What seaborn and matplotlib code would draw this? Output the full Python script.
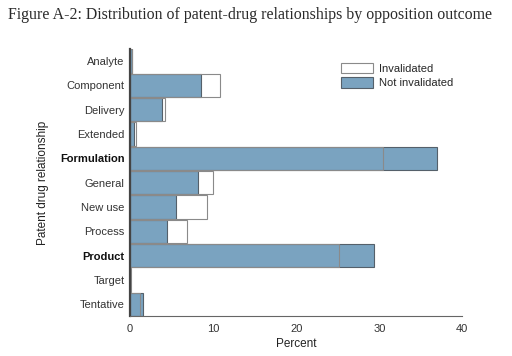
import numpy as np
import pandas as pd
import seaborn as sns
import matplotlib.pyplot as plt
from matplotlib.patches import Patch

sns.set_theme(style="white", context="paper")
plt.rcParams["font.family"] = ["Liberation Sans", "DejaVu Sans"]

# data (percent of each outcome group)
relationships = ["Analyte", "Component", "Delivery", "Extended", "Formulation",
                 "General", "New use", "Process", "Product", "Target", "Tentative"]
not_invalidated = [0.25, 8.5, 3.9, 0.5, 36.9, 8.2, 5.5, 4.5, 29.4, 0.05, 1.6]
invalidated = [0.2, 10.8, 4.2, 0.75, 30.4, 10.0, 9.3, 6.9, 25.1, 0.1, 1.2]
bold_labels = ["Formulation", "Product"]

df = pd.DataFrame({
    "relationship": relationships,
    "Not invalidated": not_invalidated,
    "Invalidated": invalidated,
})

blue = "#7aa3c0"

fig = plt.figure(figsize=(5.12, 3.56), dpi=100)
ax = fig.add_axes([0.254, 0.111, 0.649, 0.752])

# blue bars underneath, invalidated drawn as outlines on top
sns.barplot(data=df, y="relationship", x="Not invalidated", color=blue,
            edgecolor="#55606a", linewidth=0.8, width=0.96, ax=ax,
            orient="h", saturation=1)
sns.barplot(data=df, y="relationship", x="Invalidated", fill=False,
            color="#8a8a8a", linewidth=0.8, width=0.96, ax=ax, orient="h")

ax.set_xlim(0, 40)
ax.set_xticks([0, 10, 20, 30, 40])
ax.set_xlabel("Percent", fontsize=8.5, color="#222222", labelpad=3)
ax.set_ylabel("Patent drug relationship", fontsize=8.5, color="#222222", labelpad=8)
ax.tick_params(axis="x", labelsize=8, colors="#333333", length=2, width=0.6)
ax.tick_params(axis="y", labelsize=8, colors="#333333", length=0, pad=4)
for lab in ax.get_yticklabels():
    if lab.get_text() in bold_labels:
        lab.set_fontweight("bold")
        lab.set_color("#111111")

sns.despine(ax=ax)
ax.spines["left"].set_linewidth(1.6)
ax.spines["left"].set_color("#444444")
ax.spines["bottom"].set_linewidth(0.8)
ax.spines["bottom"].set_color("#666666")

handles = [Patch(facecolor="white", edgecolor="#8a8a8a", linewidth=0.8, label="Invalidated"),
           Patch(facecolor=blue, edgecolor="#55606a", linewidth=0.8, label="Not invalidated")]
ax.legend(handles=handles, loc="upper left", bbox_to_anchor=(0.62, 0.965),
          frameon=False, fontsize=8, handlelength=2.9, handleheight=1.1,
          handletextpad=0.6, labelspacing=0.3, borderaxespad=0)

fig.text(0.016, 0.958, "Figure A-2: Distribution of patent-drug relationships by opposition outcome",
         fontsize=11.45, family=["Liberation Serif", "DejaVu Serif"], color="#2a2a2a",
         va="center", ha="left")

fig.savefig("out.png", dpi=100)
